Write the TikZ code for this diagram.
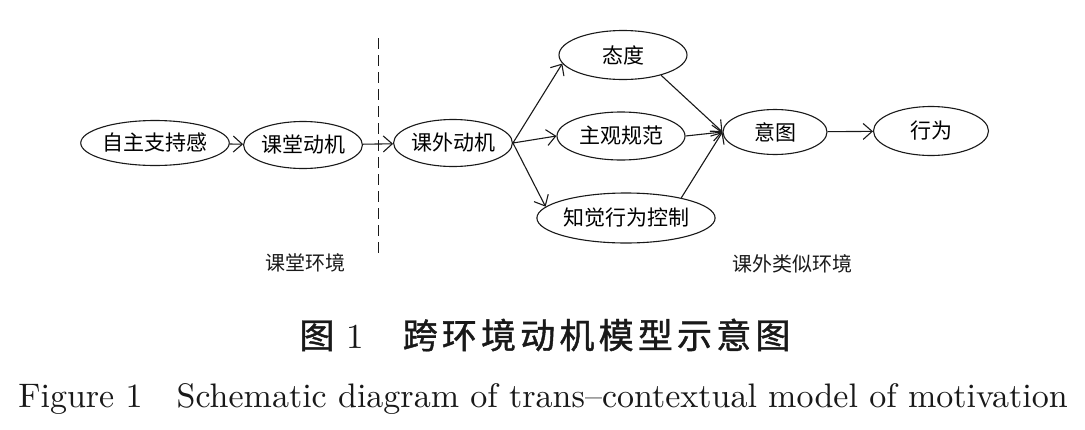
\documentclass[tikz,border=0pt]{standalone}
\usepackage{fontspec}
\newfontfamily\cjk{Noto Sans CJK SC}
\newfontfamily\cjkcap[FakeBold=1.2, LetterSpace=12]{Noto Sans CJK SC}
\newfontfamily\capfont{lmroman10-regular.otf}
\usepackage{tikz}
\usetikzlibrary{positioning, shapes, arrows.meta}
\definecolor{ink}{RGB}{25,25,25}
\tikzset{
  stage/.style={ellipse, draw=ink, line width=1.1pt, inner sep=0pt, font=\cjk\fontsize{21}{21}\selectfont},
  link/.style={draw=ink, line width=1.1pt, -{Straight Barb[length=9pt, width=16pt, line width=1.1pt]}},
  envlabel/.style={font=\cjk\fontsize{20}{20}\selectfont, text=ink},
}

\begin{document}
\begin{tikzpicture}[x=1pt, y=-1pt]
\useasboundingbox (0,0) rectangle (1085,429);
% classroom part
\node[stage, minimum width=109pt, minimum height=45pt] (autonomy) at (155,143) {自主支持感};
\node[stage, minimum width=109pt, minimum height=47pt] (classmot) at (303,145) {课堂动机};
\draw[ink, line width=1pt, dash pattern=on 11pt off 6pt] (378,38) -- (378,256);
\node[stage, minimum width=110pt, minimum height=47pt] (outmot) at (453,143) {课外动机};
% theory of planned behaviour
\node[stage, minimum width=128pt, minimum height=49pt] (attitude) at (623,55) {态度};
\node[stage, minimum width=128pt, minimum height=48pt] (norm) at (621,136) {主观规范};
\node[stage, minimum width=134pt, minimum height=50pt] (control) at (626,218) {知觉行为控制};
\node[stage, minimum width=104pt, minimum height=45pt] (intent) at (775,132) {意图};
\node[stage, minimum width=115pt, minimum height=49pt] (behav) at (931,131) {行为};

\path[link] (autonomy) -- (classmot);
\path[link] (classmot) -- (outmot);
\path[link] (outmot.east) -- (attitude.188);
\path[link] (outmot.east) -- (norm.west);
\path[link] (outmot.east) -- (control.172);
\path[link] (attitude.-28) -- (intent.west);
\path[link] (norm.east) -- (intent.west);
\path[link] (control.20) -- (intent.west);
\path[link] (intent) -- (behav);

\node[envlabel] (inlabel) at (305,263) {课堂环境};
\node[envlabel] (outlabel) at (792,264) {课外类似环境};

% caption
\node[text=ink, inner sep=0pt] (captzh) at (545,335) {\cjkcap\fontsize{35}{35}\selectfont 图\hspace{0.35em}{\capfont 1}\hspace{1.1em}跨环境动机模型示意图};
\node[font=\capfont\fontsize{34}{34}\selectfont, text=ink] (capten) at (543,399) {Figure 1\hspace{1em}Schematic diagram of trans\textendash contextual model of motivation};
\end{tikzpicture}
\end{document}
